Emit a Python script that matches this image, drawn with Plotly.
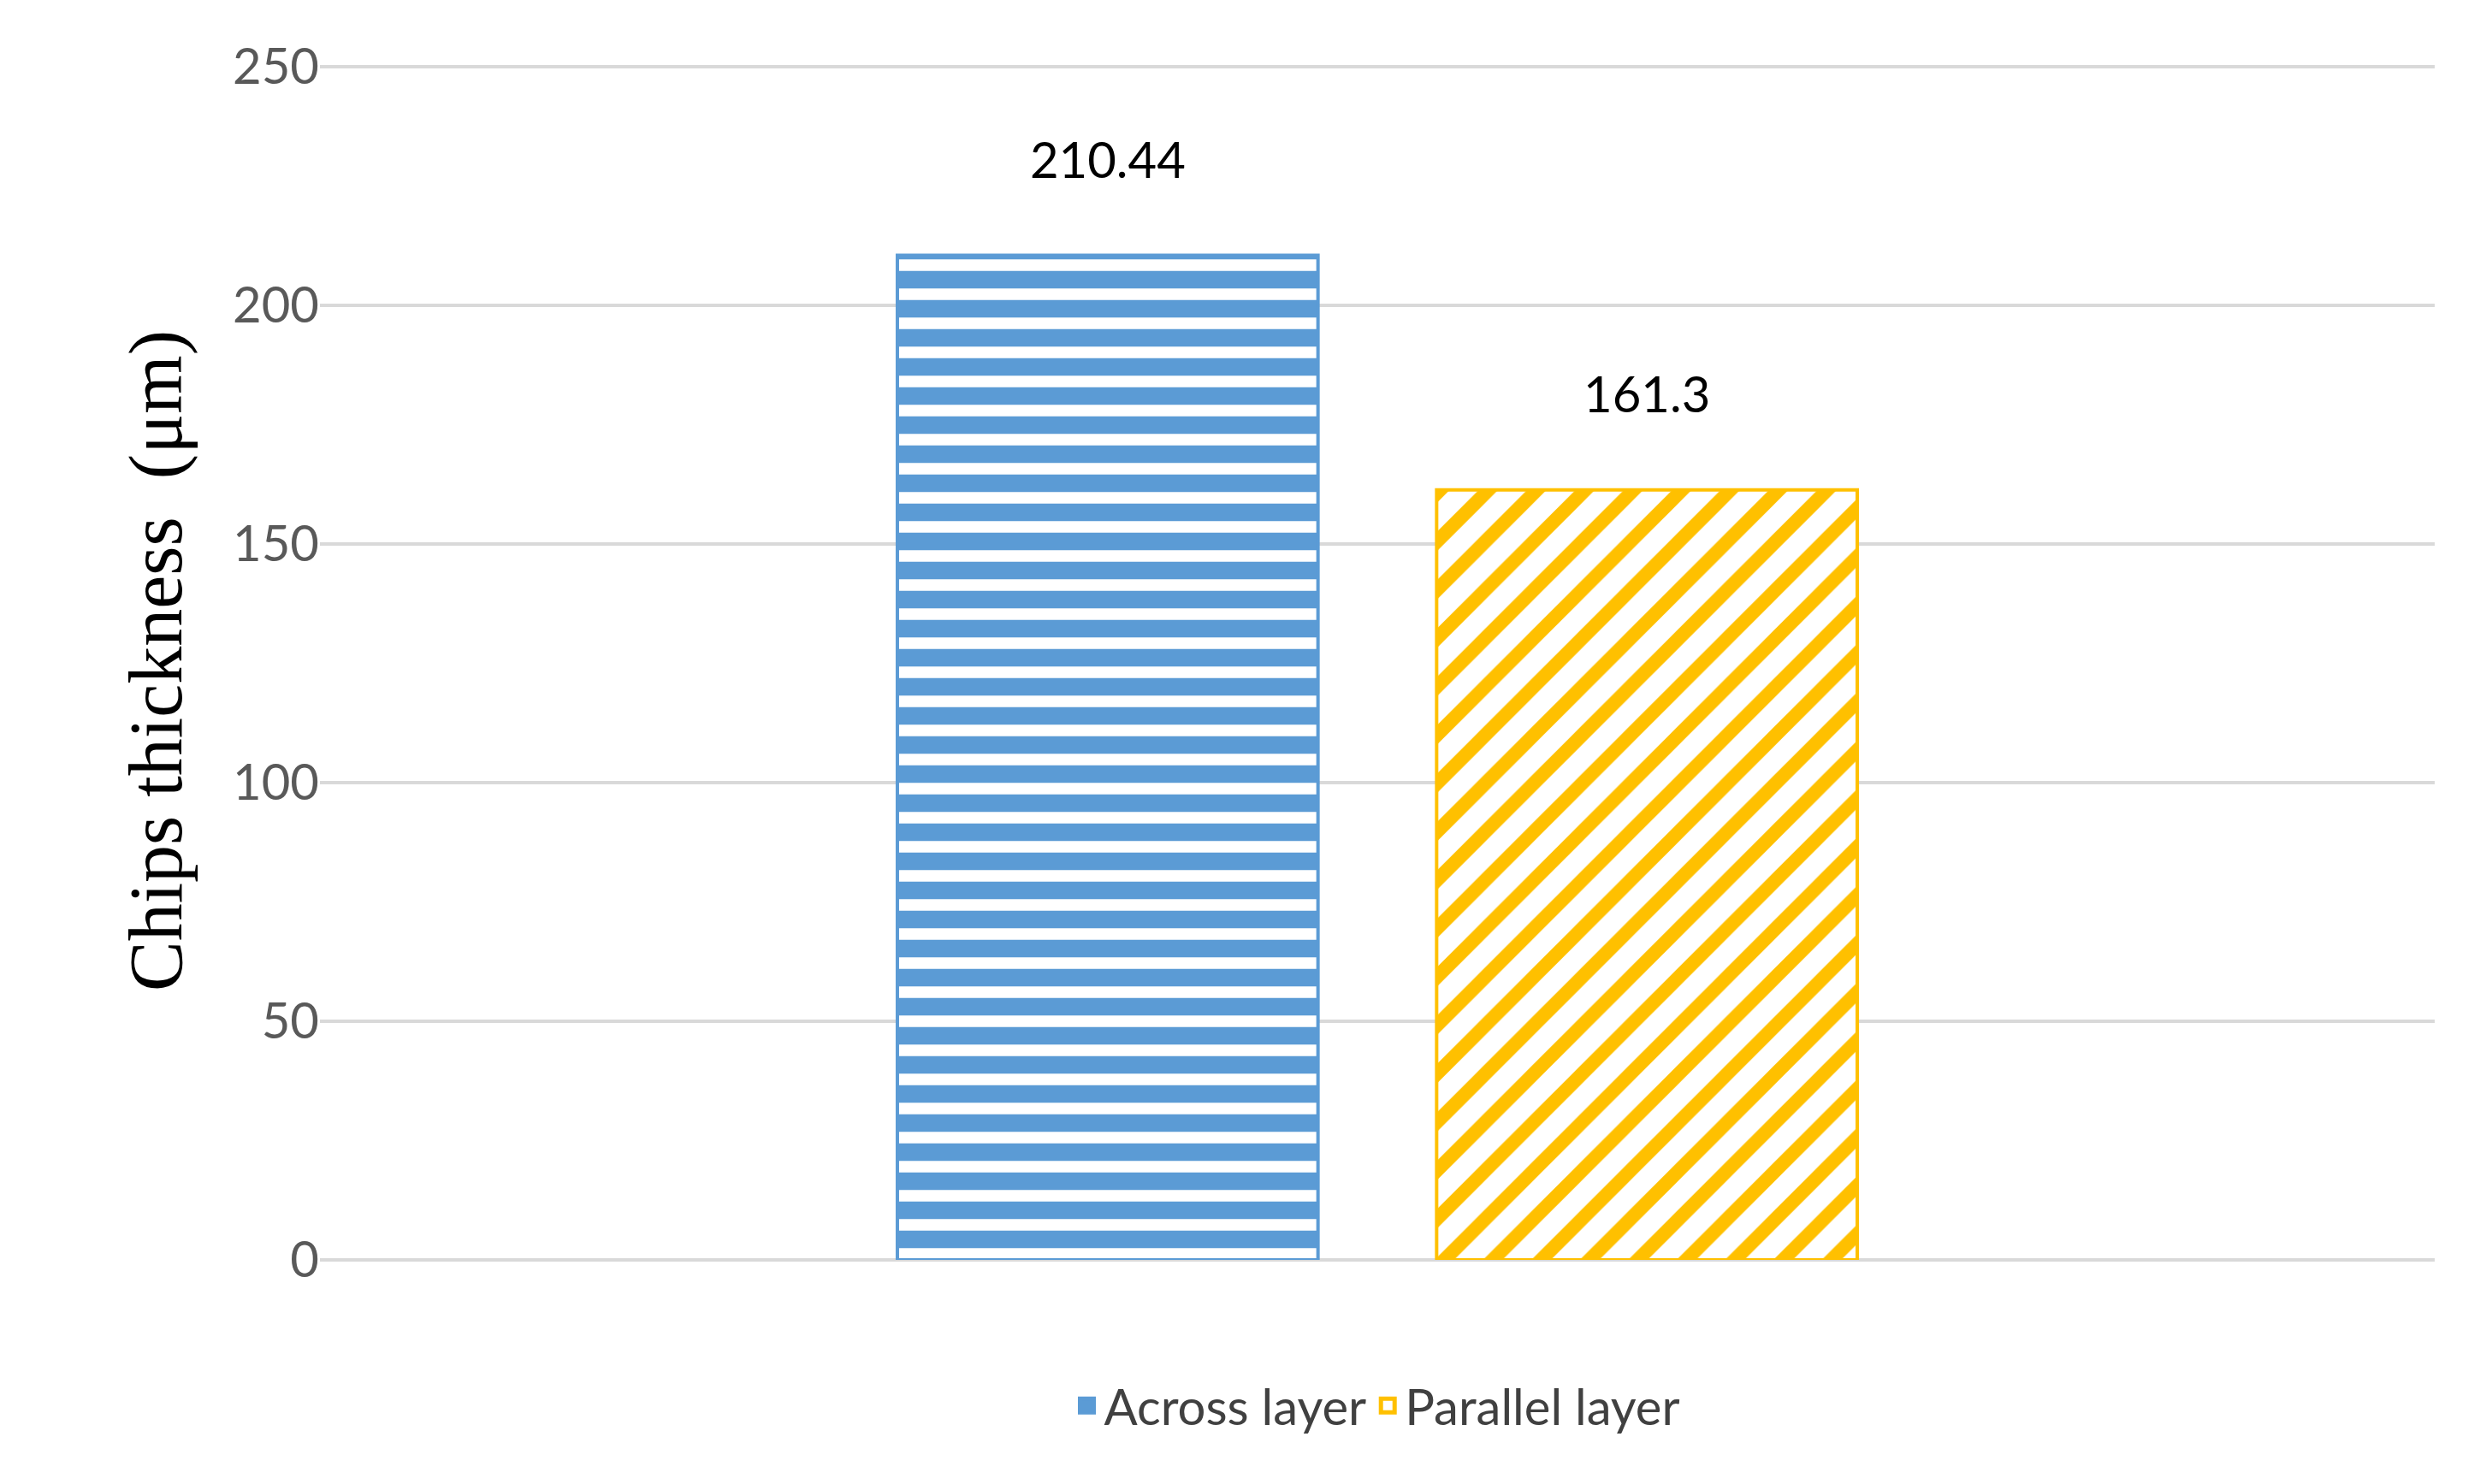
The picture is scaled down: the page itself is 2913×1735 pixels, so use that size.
import plotly.graph_objects as go

categories = ["Chips"]
series_names = ["Across layer", "Parallel layer"]
across = [210.44]
parallel = [161.3]
labels_across = ["210.44"]
labels_parallel = ["161.3"]
colors = ["#5B9BD5", "#FFC000"]

fig = go.Figure()
fig.add_trace(go.Bar(
    x=categories, y=across, name=series_names[0], text=labels_across, showlegend=False,
    texttemplate="%{text}<br> ",
    textposition="outside", textfont=dict(size=58, color="black", family="Lato"),
    marker=dict(color="white", line=dict(color=colors[0], width=4),
                pattern=dict(shape="-", fgcolor=colors[0], bgcolor="white", fgopacity=1,
                             size=34, solidity=0.6, fillmode="overlay")),
    cliponaxis=False))
fig.add_trace(go.Bar(
    x=categories, y=parallel, name=series_names[1], text=labels_parallel, showlegend=False,
    texttemplate="%{text}<br> ",
    textposition="outside", textfont=dict(size=58, color="black", family="Lato"),
    marker=dict(color="white", line=dict(color=colors[1], width=4),
                pattern=dict(shape="/", fgcolor=colors[1], bgcolor="white", fgopacity=1,
                             size=40, solidity=0.4, fillmode="overlay")),
    cliponaxis=False))
for name, c, sym in zip(series_names, colors, ["square", "square-open"]):
    fig.add_trace(go.Scatter(x=[None], y=[None], mode="markers", name=name,
                             marker=dict(symbol=sym, size=38, color=c, line=dict(width=6, color=c))))

fig.update_layout(
    width=2913, height=1735, barmode="group", bargap=0.49, bargroupgap=0.22,
    plot_bgcolor="white", paper_bgcolor="white",
    margin=dict(l=366, r=75, t=64, b=270),
    font=dict(family="Lato", color="#595959"),
    xaxis=dict(showticklabels=False, showline=False, showgrid=False),
    yaxis=dict(range=[0, 251], tickvals=[0, 50, 100, 150, 200, 250], gridcolor="#D9D9D9", gridwidth=4,
               tickfont=dict(size=58, color="#595959"), zeroline=True, zerolinecolor="#D9D9D9", zerolinewidth=4,
               ticks="", ticklen=0,
               title=dict(text="Chips thickness  (μm)", font=dict(family="Liberation Serif", size=88, color="black"), standoff=30)),
    legend=dict(orientation="h", x=0.5, xanchor="center", y=-0.09, yanchor="top",
                font=dict(size=58, color="#404040")),
)
fig.write_html("out.html")
